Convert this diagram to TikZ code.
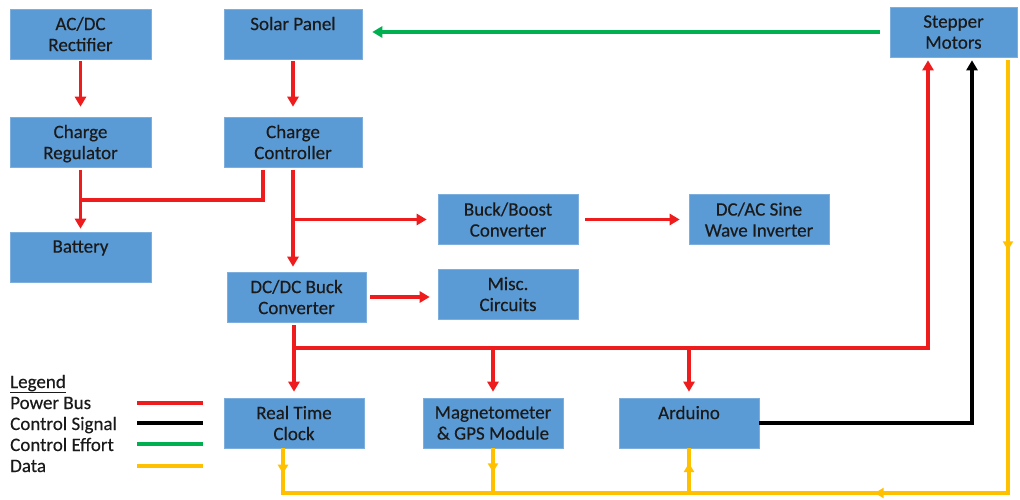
\documentclass[tikz,border=0pt]{standalone}
\usepackage{fontspec}
\setmainfont{Carlito}
\newfontfamily\blkfont{Carlito}[FakeBold=0.35]
\usetikzlibrary{arrows.meta,calc,decorations.markings}
\definecolor{boxblue}{HTML}{5B9BD5}
\definecolor{pwrred}{HTML}{EE1C1C}
\definecolor{dataylw}{HTML}{FFC000}
\definecolor{effgreen}{HTML}{00B050}
\definecolor{txt}{HTML}{1A1A1A}
\begin{document}
\begin{tikzpicture}[x=1pt,y=-1pt,
  blk/.style={fill=boxblue, draw=boxblue!80!white, line width=0.6pt, minimum height=50pt, inner sep=0pt,
    align=center, text=txt, font=\blkfont\fontsize{19}{21}\selectfont, text depth=0pt},
  tip/.style={-{Triangle[length=10pt,width=11pt]}},
  pwr/.style={draw=pwrred, line width=3.2pt},
  ctl/.style={draw=black, line width=3.2pt},
  eff/.style={draw=effgreen, line width=3.2pt},
  dat/.style={draw=dataylw, line width=3.2pt},
  leg/.style={anchor=base west, inner sep=0pt, text=txt, font=\blkfont\fontsize{19}{21}\selectfont}]
\useasboundingbox (0,0) rectangle (1020,500);

% boxes
\node[blk, minimum width=141pt] (acdc)    at (80.5,34)  {AC/DC\\Rectifier};
\node[blk, minimum width=138pt] (solar)   at (293,34)   {Solar Panel\\\mbox{}};
\node[blk, minimum width=141pt] (chreg)   at (80.5,142) {Charge\\Regulator};
\node[blk, minimum width=138pt] (chctrl)  at (293,142)  {Charge\\Controller};
\node[blk, minimum width=141pt] (battery) at (80.5,257) {Battery\\\mbox{}};
\node[blk, minimum width=127pt] (stepper) at (953.5,32) {Stepper\\Motors};
\node[blk, minimum width=140pt] (buck)    at (508,219.5) {Buck/Boost\\Converter};
\node[blk, minimum width=140pt] (dcac)    at (759,219.5) {DC/AC Sine\\Wave Inverter};
\node[blk, minimum width=140pt] (misc)    at (508,294)  {Misc.\\Circuits};
\node[blk, minimum width=139pt] (dcdc)    at (296.5,297) {DC/DC Buck\\Converter};
\node[blk, minimum width=140pt] (rtc)     at (294,423)  {Real Time\\Clock};
\node[blk, minimum width=140pt] (mag)     at (493,423)  {Magnetometer\\\& GPS Module};
\node[blk, minimum width=140pt] (ard)     at (689,423)  {Arduino\\\mbox{}};

% power bus
\draw[pwr,tip,shorten <=2pt,shorten >=10pt] (acdc) -- (chreg);
\draw[pwr,tip,shorten <=2pt,shorten >=10pt] (solar) -- (chctrl);
\draw[pwr,tip,shorten <=3pt,shorten >=3pt] (chreg) -- (battery);
\draw[pwr] ([xshift=-30pt,yshift=-3pt]chctrl.south) |- (chreg.south |- 0,200);
\draw[pwr,tip,shorten <=3pt,shorten >=5pt] (chctrl.south) -- (chctrl.south |- dcdc.north);
\coordinate (j2) at (chctrl.south |- buck.west);
\draw[pwr,tip,shorten >=11pt] (j2) -- (buck.west);
\draw[pwr,tip,shorten <=7pt,shorten >=9pt] (buck) -- (dcac);
\draw[pwr,tip,shorten <=4pt,shorten >=8pt] (dcdc.east) -- (misc.west |- dcdc.east);
\draw[pwr,tip,shorten <=3pt,shorten >=6pt] (rtc.north |- dcdc.south) -- (rtc.north);
\coordinate (bus) at (rtc.north |- 0,348);
\coordinate (busr) at (928,348);
\draw[pwr,tip,shorten >=3pt] (bus) -- (busr) -- (busr |- stepper.south);
\draw[pwr,tip,shorten >=6pt] (mag.north |- bus) -- (mag.north);
\draw[pwr,tip,shorten >=6pt] (ard.north |- bus) -- (ard.north);

% control effort
\draw[eff,tip,shorten <=10pt,shorten >=10pt] (stepper.west) -- (solar.east |- stepper.west);

% control signal
\coordinate (bk) at (ard.east -| 972,0);
\draw[ctl,tip,shorten >=3pt] (ard.east) -- (bk) -- (bk |- stepper.south);

% data
\coordinate (yr) at (1008,493);
\coordinate (yl) at (283,493);
\coordinate (ys) at ([yshift=-3pt]stepper.south -| yr);
\draw[dat, postaction={decorate}, decoration={markings,
    mark=at position 190pt with {\arrow{Triangle[length=9pt,width=10pt]}},
    mark=at position 566pt with {\arrow{Triangle[length=9pt,width=10pt]}},
    mark=at position 1177pt with {\arrowreversed{Triangle[length=9pt,width=10pt]}}}]
  (ys) -- (yr) -- (yl) -- (yl |- rtc.south);
\draw[dat, postaction={decorate}, decoration={markings,
    mark=at position 24pt with {\arrow{Triangle[length=9pt,width=10pt]}}}]
  (mag.south) -- (mag.south |- yl);
\draw[dat, postaction={decorate}, decoration={markings,
    mark=at position 30pt with {\arrow{Triangle[length=9pt,width=10pt]}}}]
  (ard.south |- yl) -- (ard.south);

% legend
\node[leg] (lgd) at (10,388) {\underline{Legend}};
\node[leg] (lpb) at (10,409) {Power Bus};
\node[leg] (lcs) at (10,430) {Control Signal};
\node[leg] (lce) at (10,451) {Control Effort};
\node[leg] (ldt) at (10,472) {Data};
\draw[pwr] (137,403) -- (203,403);
\draw[ctl] (137,423) -- (203,423);
\draw[eff] (137,444) -- (203,444);
\draw[dat] (137,466) -- (203,466);
\end{tikzpicture}
\end{document}
